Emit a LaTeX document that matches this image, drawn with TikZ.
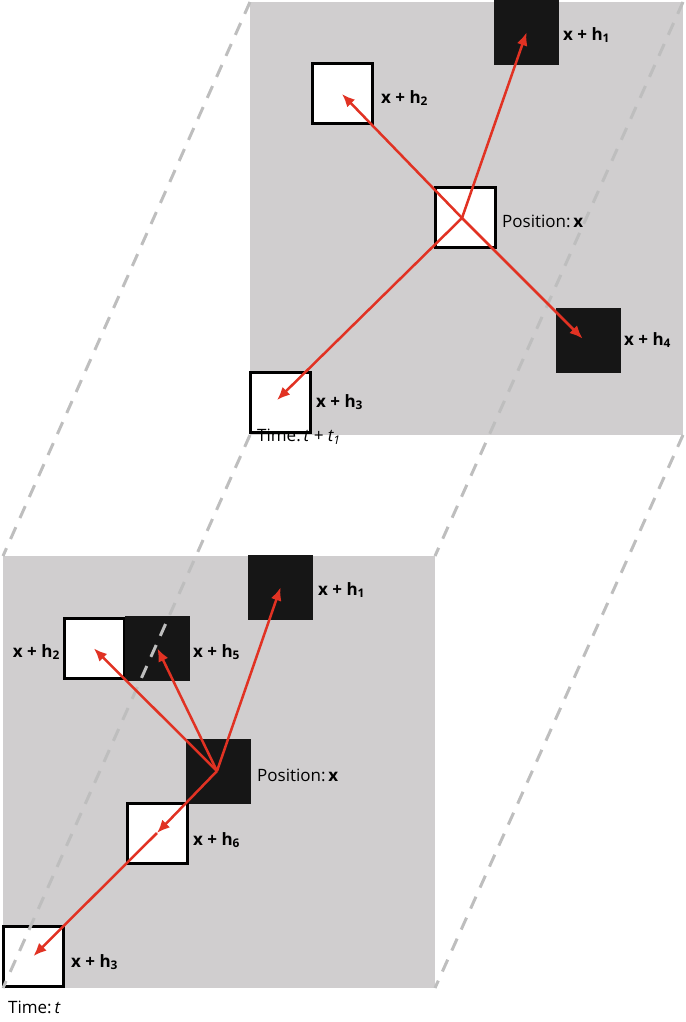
\documentclass[tikz,border=0pt]{standalone}
\usepackage{fontspec}
\setmainfont{Open Sans}
\usetikzlibrary{arrows.meta}
\begin{document}
\begin{tikzpicture}[x=1pt,y=-1pt,
 panel/.style={fill={rgb,255:red,208;green,206;blue,207},draw=none},
 wbox/.style={draw=black,line width=3pt,fill=white,minimum size=60pt,inner sep=0pt},
 bbox/.style={draw=none,fill={rgb,255:red,22;green,22;blue,22},minimum size=65pt,inner sep=0pt},
 gdash/.style={draw={rgb,255:red,190;green,190;blue,190},line width=3pt,dash pattern=on 13pt off 10pt},
 arr/.style={draw={rgb,255:red,225;green,50;blue,35},line width=2.5pt,-{Latex[length=13pt,width=11pt]}},
 lab/.style={font=\fontsize{17}{20}\selectfont\bfseries,anchor=west,inner sep=0pt},
 txt/.style={font=\fontsize{17}{20}\selectfont,anchor=west,inner sep=0pt}]
\useasboundingbox (0,0) rectangle (685,1022);
% panels
\node[panel,minimum width=433pt,minimum height=433pt,inner sep=0pt,anchor=north west] (P1) at (250,2) {};
\node[panel,minimum width=432pt,minimum height=432pt,inner sep=0pt,anchor=north west] (P0) at (3,556) {};
% top boxes
\node[bbox] (a1) at (526.5,32.5) {};
\node[wbox] (a2) at (342,94) {};
\node[wbox] (ax) at (465.5,217) {};
\node[bbox] (a4) at (588.5,340.5) {};
\node[wbox] (a3) at (280,402) {};
\node[lab] at (563,35) {x + h\textsubscript{1}};
\node[lab] at (381,98) {x + h\textsubscript{2}};
\node[txt] at (502,221) {Position:\,\textbf{x}};
\node[lab] at (624,340) {x + h\textsubscript{4}};
\node[lab] at (316,402) {x + h\textsubscript{3}};
\node[txt] at (257,437) {Time:\,\textit{t + t\textsubscript{1}}};
% bottom boxes
\node[bbox] (b1) at (280.5,587.5) {};
\node[wbox] (b2) at (94,648.5) {};
\node[bbox] (b5) at (157.5,648.5) {};
\node[bbox] (bx) at (218.5,771.5) {};
\node[wbox] (b6) at (157,833) {};
\node[wbox] (b3) at (33.5,956) {};
\node[lab] at (318,590) {x + h\textsubscript{1}};
\node[lab,anchor=east] at (60,652) {x + h\textsubscript{2}};
\node[lab] at (193,652) {x + h\textsubscript{5}};
\node[txt] at (257,775) {Position:\,\textbf{x}};
\node[lab] at (193,840) {x + h\textsubscript{6}};
\node[lab] at (71,962) {x + h\textsubscript{3}};
\node[txt] at (8,1007) {Time:\,\textit{t}};
% dashed connectors
\coordinate (c1) at (250,2); \coordinate (c2) at (683,2);
\coordinate (c3) at (250,435); \coordinate (c4) at (683,435);
\coordinate (d1) at (3,556); \coordinate (d2) at (435,556);
\coordinate (d3) at (3,988); \coordinate (d4) at (435,988);
\draw[gdash] (c1) -- (d1);
\draw[gdash] (c2) -- (d2);
\draw[gdash] (c3) -- (d3);
\draw[gdash] (c4) -- (d4);
% arrows top
\coordinate (o1) at (462,218);
\draw[arr] (o1) -- (a1.center);
\draw[arr] (o1) -- (a2.center);
\draw[arr] (o1) -- ([xshift=-6pt,yshift=2pt]a4.center);
\draw[arr] (o1) -- ([xshift=-3pt,yshift=2pt]a3.center);
% arrows bottom
\coordinate (o0) at (217,771);
\draw[arr] (o0) -- (b1.center);
\draw[arr] (o0) -- (b2.center);
\draw[arr] (o0) -- (b5.center);
\draw[arr] (o0) -- (b6.center);
\draw[arr] (b6.center) -- (b3.center);
\end{tikzpicture}
\end{document}
